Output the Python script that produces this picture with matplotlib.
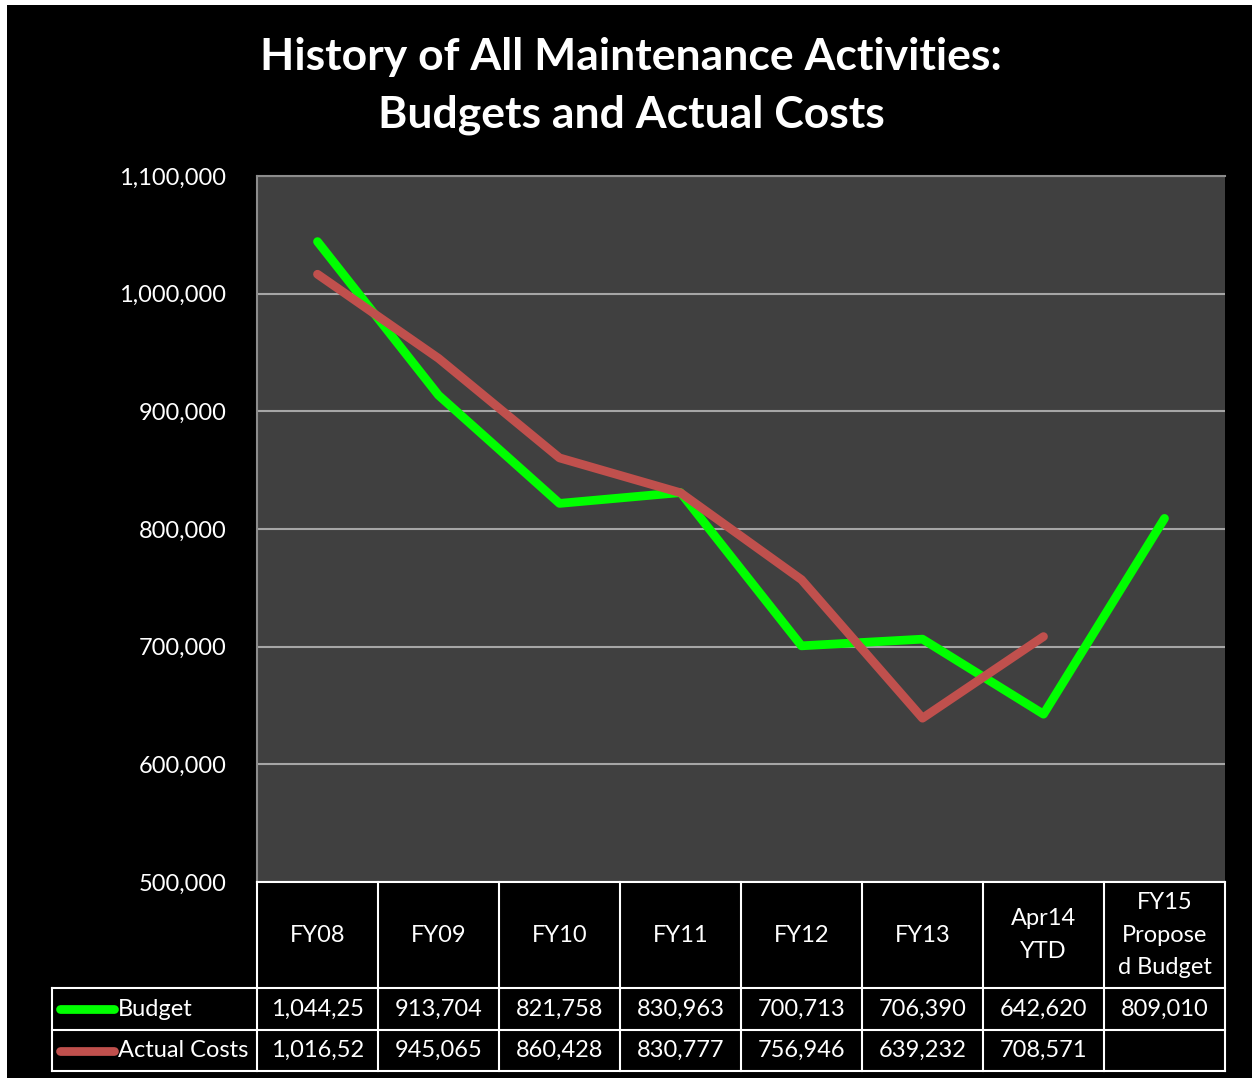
import matplotlib.pyplot as plt
from matplotlib.patches import Rectangle

# chart data
categories = ["FY08", "FY09", "FY10", "FY11", "FY12", "FY13", "Apr14\nYTD", "FY15\nPropose\nd Budget"]
budget = [1044250, 913704, 821758, 830963, 700713, 706390, 642620, 809010]
actual = [1016520, 945065, 860428, 830777, 756946, 639232, 708571, None]
series_names = ["Budget", "Actual Costs"]
series_colors = ["#00ff00", "#c0504d"]
yticks = [500000, 600000, 700000, 800000, 900000, 1000000, 1100000]

plt.rcParams['font.family'] = ['Lato', 'DejaVu Sans']

W, H = 1252, 1078
fig = plt.figure(figsize=(W / 100, H / 100), dpi=100, facecolor="white")
fig.patches.append(Rectangle((7 / W, 0), 1 - 7 / W, 1 - 5 / H, transform=fig.transFigure,
                             facecolor="black", edgecolor="none", zorder=-10))

fig.text(631 / W, 1 - 86 / H, "History of All Maintenance Activities:\nBudgets and Actual Costs",
         ha="center", va="center", color="white", fontsize=32, fontweight="bold", linespacing=1.55)

# plot area
ax = fig.add_axes([257 / W, 1 - 882 / H, 968 / W, 706 / H])
ax.set_facecolor("#404040")
ax.set_xlim(-0.5, len(categories) - 0.5)
ax.set_ylim(yticks[0], yticks[-1])
ax.set_yticks(yticks)
ax.set_yticklabels([f"{v:,}" for v in yticks], color="white", fontsize=17)
ax.tick_params(axis="y", length=0, pad=22)
ax.set_xticks([])
ax.grid(axis="y", color="#a6a6a6", linewidth=1.5)
ax.set_axisbelow(True)
ax.spines["right"].set_visible(False)
for side in ["top", "left"]:
    ax.spines[side].set_color("#8c8c8c")
    ax.spines[side].set_linewidth(1.5)
ax.spines["bottom"].set_color("white")
ax.spines["bottom"].set_linewidth(1.5)

x = list(range(len(categories)))
xa = [i for i, v in zip(x, actual) if v is not None]
ya = [v for v in actual if v is not None]
ax.plot(x, budget, color=series_colors[0], linewidth=6.3, solid_capstyle="round", solid_joinstyle="round", zorder=3)
ax.plot(xa, ya, color=series_colors[1], linewidth=6.3, solid_capstyle="round", solid_joinstyle="round", zorder=4)

# data table below the plot
unit = 968 / len(categories)
left = -0.5 - (257 - 52) / unit
right = len(categories) - 0.5
tab = fig.add_axes([52 / W, 1 - 1071 / H, (1225 - 52) / W, (1071 - 882) / H])
tab.set_xlim(left, right)
tab.set_ylim(189, 0)
tab.axis("off")

rows = [0, 106, 148, 189]
lw = 1.5
for b in [i - 0.5 for i in range(len(categories) + 1)]:
    tab.plot([b, b], [rows[0], rows[-1]], color="white", linewidth=lw, clip_on=False)
tab.plot([left, left], [rows[1], rows[-1]], color="white", linewidth=lw, clip_on=False)
for r in rows[1:]:
    tab.plot([left, right], [r, r], color="white", linewidth=lw, clip_on=False)

for i, cat in enumerate(categories):
    tab.text(i, (rows[0] + rows[1]) / 2, cat, ha="center", va="center", color="white",
             fontsize=17, linespacing=1.65)

for k, (name, color, vals) in enumerate(zip(series_names, series_colors, [budget, actual])):
    yc = (rows[k + 1] + rows[k + 2]) / 2
    tab.plot([left + 8 / unit, left + 62 / unit], [yc, yc], color=color, linewidth=6.3,
             solid_capstyle="round", clip_on=False)
    tab.text(left + 66 / unit, yc, name, ha="left", va="center", color="white", fontsize=17)
    for i, v in enumerate(vals):
        if v is None:
            continue
        tab.text(i, yc, f"{v:,}"[:8], ha="center", va="center", color="white", fontsize=17)

fig.savefig("out.png", dpi=100, facecolor=fig.get_facecolor())
